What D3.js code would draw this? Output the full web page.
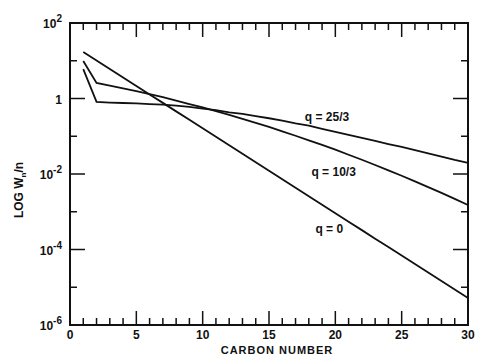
<!DOCTYPE html>
<html>
<head>
<meta charset="utf-8">
<script src="https://cdn.jsdelivr.net/npm/d3@7"></script>
<style>
  body { margin: 0; background: #fff; }
  svg { display: block; }
  text { font-family: "Liberation Sans", Arial, sans-serif; font-weight: bold; fill: #111; }
</style>
</head>
<body>
<div id="chart"></div>
<script>
// carbon numbers 1..30
const carbonNumbers = d3.range(1, 31);

// W_n/n, one per carbon number
const q0 = [17.1, 10.2, 6.06, 3.61, 2.15, 1.28, 0.766, 0.456, 0.272, 0.162,
    0.0966, 0.0575, 0.0343, 0.0205, 0.0122, 0.00727, 0.00433, 0.00258, 0.00154, 0.000918,
    0.000547, 0.000326, 0.000194, 0.000116, 6.9e-5, 4.11e-5, 2.45e-5, 1.46e-5, 8.71e-6, 5.19e-6];
const q10_3 = [9.8, 2.58, 2.2, 1.86, 1.56, 1.3, 1.08, 0.88, 0.71, 0.58,
    0.46, 0.37, 0.29, 0.227, 0.176, 0.135, 0.103, 0.078, 0.059, 0.044,
    0.0324, 0.0238, 0.0173, 0.0125, 0.009, 0.0064, 0.0045, 0.00316, 0.00219, 0.00151];
const q25_3 = [6.0, 0.81, 0.78, 0.76, 0.74, 0.71, 0.69, 0.65, 0.6, 0.54,
    0.49, 0.43, 0.39, 0.34, 0.3, 0.26, 0.22, 0.19, 0.156, 0.13,
    0.108, 0.09, 0.075, 0.062, 0.052, 0.043, 0.035, 0.029, 0.0235, 0.0196];

const seriesNames = ["q = 0", "q = 10/3", "q = 25/3"];
const xTickLabels = [0, 5, 10, 15, 20, 25, 30];
const yTickExps = [2, 0, -2, -4, -6];

const width = 477, height = 355;
const margin = { top: 23, right: 9, bottom: 30, left: 70 };

const svg = d3.select("#chart").append("svg")
    .attr("width", width)
    .attr("height", height);

const x = d3.scaleLinear().domain([0, 30]).range([margin.left, width - margin.right]);
const y = d3.scaleLog().domain([1e-6, 1e2]).range([height - margin.bottom, margin.top]);

const x0 = x.range()[0], x1 = x.range()[1];
const y0 = y.range()[0], y1 = y.range()[1];

// frame
svg.append("rect")
    .attr("x", x0).attr("y", y1)
    .attr("width", x1 - x0).attr("height", y0 - y1)
    .attr("fill", "none").attr("stroke", "#111").attr("stroke-width", 2);

// x ticks, bottom and top, pointing inwards
const xTicks = d3.range(0, 31);
function xLen(d) { return d % 5 === 0 ? 14 : 7; }
svg.append("g").selectAll("line").data(xTicks.slice(1, -1)).join("line")
    .attr("x1", d => x(d)).attr("x2", d => x(d))
    .attr("y1", y0).attr("y2", d => y0 - xLen(d))
    .attr("stroke", "#111").attr("stroke-width", 1.5);
svg.append("g").selectAll("line").data(xTicks.slice(1, -1)).join("line")
    .attr("x1", d => x(d)).attr("x2", d => x(d))
    .attr("y1", y1).attr("y2", d => y1 + xLen(d))
    .attr("stroke", "#111").attr("stroke-width", 1.5);

svg.append("g").selectAll("text").data(xTickLabels).join("text")
    .attr("x", d => x(d)).attr("y", y0 + 14)
    .attr("text-anchor", "middle")
    .style("font-size", "12px")
    .text(d => d);

// y ticks, every decade, left and right
const yTicks = d3.range(-5, 2);
function yLen(e) { return e % 2 === 0 ? 15 : 7; }
svg.append("g").selectAll("line").data(yTicks).join("line")
    .attr("x1", x0).attr("x2", e => x0 + yLen(e))
    .attr("y1", e => y(Math.pow(10, e))).attr("y2", e => y(Math.pow(10, e)))
    .attr("stroke", "#111").attr("stroke-width", 1.5);
svg.append("g").selectAll("line").data(yTicks).join("line")
    .attr("x1", x1).attr("x2", e => x1 - yLen(e))
    .attr("y1", e => y(Math.pow(10, e))).attr("y2", e => y(Math.pow(10, e)))
    .attr("stroke", "#111").attr("stroke-width", 1.5);

const yl = svg.append("g").selectAll("text").data(yTickExps).join("text")
    .attr("x", x0 - 8).attr("y", e => y(Math.pow(10, e)) + 5)
    .attr("text-anchor", "end")
    .style("font-size", "12px");
yl.each(function (e) {
    const t = d3.select(this);
    if (e === 0) { t.text("1"); return; }
    t.append("tspan").text("10");
    t.append("tspan").attr("dy", -6).style("font-size", "10px").text(e < 0 ? "-" + (-e) : e);
});

// axis titles
svg.append("text")
    .attr("x", 277).attr("y", height - 1)
    .attr("text-anchor", "middle")
    .style("font-size", "11px").style("letter-spacing", "1px")
    .text("CARBON NUMBER");

const yt = svg.append("text")
    .attr("transform", `translate(23,${(y0 + y1) / 2 + 16}) rotate(-90)`)
    .attr("text-anchor", "middle")
    .style("font-size", "12px");
yt.append("tspan").text("LOG W");
yt.append("tspan").attr("dy", 3).style("font-size", "8px").text("n");
yt.append("tspan").attr("dy", -3).text("/n");

// curves
const line = d3.line()
    .x((d, i) => x(carbonNumbers[i]))
    .y(d => y(d));

svg.append("g").selectAll("path").data([q0, q10_3, q25_3]).join("path")
    .attr("d", line)
    .attr("fill", "none")
    .attr("stroke", "#111")
    .attr("stroke-width", 1.8);

// curve labels
const labelPos = [[18.5, 2.8e-4], [18.2, 8.9e-3], [17.7, 0.25]];
svg.append("g").selectAll("text").data(seriesNames).join("text")
    .attr("x", (d, i) => x(labelPos[i][0]))
    .attr("y", (d, i) => y(labelPos[i][1]))
    .style("font-size", "12px")
    .text(d => d);
</script>
</body>
</html>
